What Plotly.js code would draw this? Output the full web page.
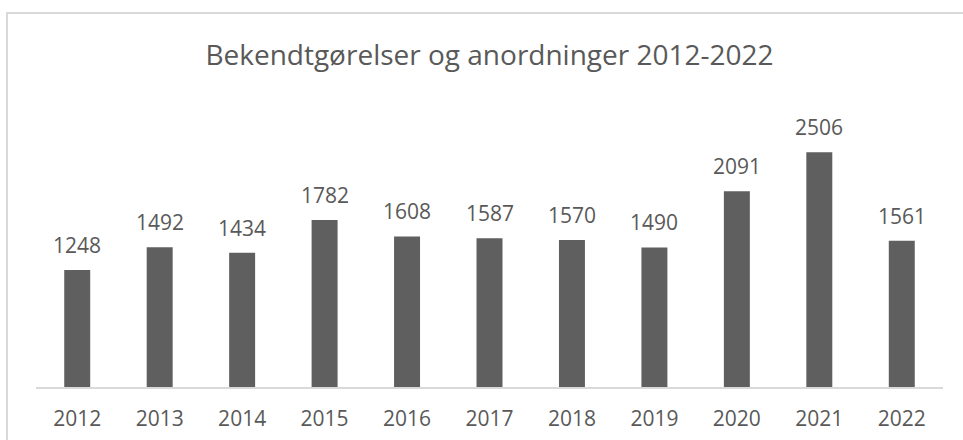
<!DOCTYPE html>
<html>
<head>
<meta charset="utf-8">
<script src="https://cdn.plot.ly/plotly-3.0.1.min.js"></script>
<style>
html,body{margin:0;padding:0;background:#fff;}
#chart{width:963px;height:440px;}
</style>
</head>
<body>
<div id="chart"></div>
<script>
const years = ["2012","2013","2014","2015","2016","2017","2018","2019","2020","2021","2022"];
const counts = [1248,1492,1434,1782,1608,1587,1570,1490,2091,2506,1561];
const chartTitle = "Bekendtgørelser og anordninger 2012-2022";

const W = 963, H = 440;
const m = {l:36, r:20, t:106, b:53};
const pw = W - m.l - m.r, ph = H - m.t - m.b;
const px = v => (v - m.l) / pw;
const py = v => (H - m.b - v) / ph;

const textColor = "#595959";
const fontFam = "Open Sans, Noto Sans, sans-serif";

const trace = {
  type: "bar",
  x: years,
  y: counts,
  marker: {color: "#5f5f5f"},
  hoverinfo: "none"
};

const annotations = years.map((yr, i) => ({
  x: i, y: counts[i], xref: "x", yref: "y",
  text: String(counts[i]), showarrow: false,
  yanchor: "bottom", yshift: 9,
  font: {family: fontFam, size: 21, color: textColor}
}));

const layout = {
  width: W, height: H,
  margin: m,
  paper_bgcolor: "#fff",
  plot_bgcolor: "#fff",
  showlegend: false,
  bargap: 0.685,
  title: {
    text: chartTitle,
    x: 0.5, xref: "paper", xanchor: "center",
    y: 1 - 55 / H, yanchor: "middle",
    font: {family: fontFam, size: 28, color: textColor}
  },
  xaxis: {
    type: "category",
    range: [-0.5, years.length - 0.5],
    autorange: false,
    showgrid: false,
    showline: true,
    linecolor: "#d9d9d9",
    linewidth: 1.5,
    ticks: "",
    ticklabelstandoff: 12,
    tickfont: {family: fontFam, size: 21, color: textColor},
    fixedrange: true
  },
  yaxis: {
    range: [0, 3000],
    autorange: false,
    showgrid: false,
    showline: false,
    zeroline: false,
    showticklabels: false,
    ticks: "",
    fixedrange: true
  },
  annotations: annotations,
  shapes: [
    {type: "line", xref: "paper", yref: "paper", x0: px(6), x1: px(970), y0: py(13), y1: py(13),
     line: {color: "#d9d9d9", width: 2}},
    {type: "line", xref: "paper", yref: "paper", x0: px(7), x1: px(7), y0: py(12), y1: py(450),
     line: {color: "#d9d9d9", width: 2}}
  ]
};

Plotly.newPlot("chart", [trace], layout, {displayModeBar: false, staticPlot: true});
</script>
</body>
</html>
